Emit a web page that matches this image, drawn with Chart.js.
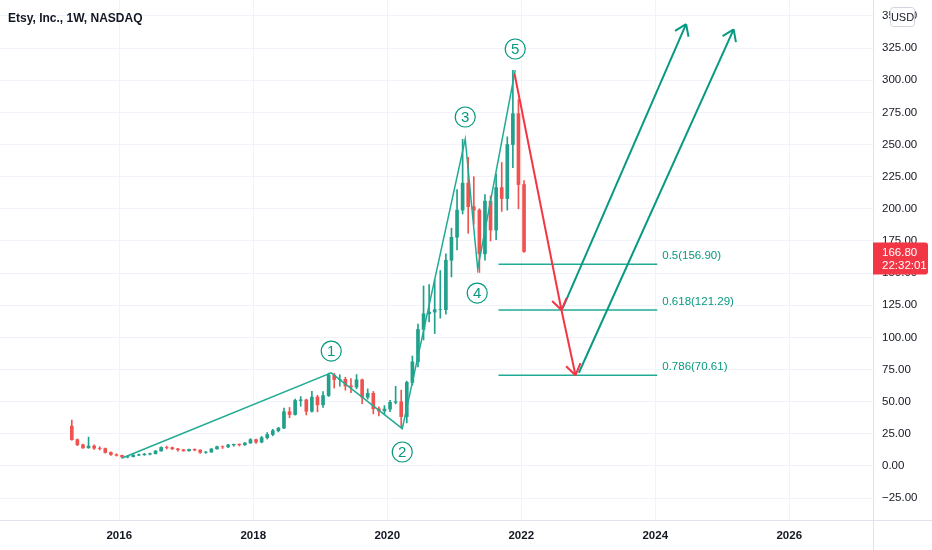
<!DOCTYPE html>
<html>
<head>
<meta charset="utf-8">
<title>Etsy, Inc., 1W, NASDAQ</title>
<script src="https://cdn.jsdelivr.net/npm/chart.js@4.4.1/dist/chart.umd.min.js"></script>
<style>
  html, body { margin: 0; padding: 0; background: #fff; }
  #box { position: relative; width: 932px; height: 550px; }
  #title { position: absolute; left: 8px; top: 11px; color: #131722;
           font: bold 12px "Liberation Sans", sans-serif; }
</style>
</head>
<body>
<div id="box">
  <canvas id="chart" width="932" height="550"></canvas>
  <div id="title">Etsy, Inc., 1W, NASDAQ</div>
</div>
<script>
// candles (monthly)
var months = [
  '2015-04','2015-05','2015-06','2015-07','2015-08','2015-09','2015-10','2015-11','2015-12',
  '2016-01','2016-02','2016-03','2016-04','2016-05','2016-06','2016-07','2016-08','2016-09','2016-10','2016-11','2016-12',
  '2017-01','2017-02','2017-03','2017-04','2017-05','2017-06','2017-07','2017-08','2017-09','2017-10','2017-11','2017-12',
  '2018-01','2018-02','2018-03','2018-04','2018-05','2018-06','2018-07','2018-08','2018-09','2018-10','2018-11','2018-12',
  '2019-01','2019-02','2019-03','2019-04','2019-05','2019-06','2019-07','2019-08','2019-09','2019-10','2019-11','2019-12',
  '2020-01','2020-02','2020-03','2020-04','2020-05','2020-06','2020-07','2020-08','2020-09','2020-10','2020-11','2020-12',
  '2021-01','2021-02','2021-03','2021-04','2021-05','2021-06','2021-07','2021-08','2021-09','2021-10','2021-11','2021-12',
  '2022-01'
];
var open = [
  31, 20.5, 16.5, 14.1, 15.5, 13.8, 13.6, 10.5, 8.8,
  8.3, 7.0, 7.3, 8.4, 8.8, 9.2, 9.6, 11.7, 14.4, 14.3, 13.3, 12.6,
  11.8, 12.9, 12.4, 10.6, 10.9, 13.3, 15.0, 14.9, 16.4, 16.9, 16.5, 17.9,
  20.5, 18.6, 22, 24.5, 27.5, 29.5, 42.2, 40, 50.9, 51.4, 42.6, 53.6,
  47.6, 54.8, 70.7, 67.2, 67.4, 62.3, 61.4, 67, 53.5, 56.5, 44.5, 42.8,
  44.3, 49.5, 50, 38.4, 65, 81, 106.2, 118.4, 119.7, 121.6, 121.6, 160,
  177.9, 199, 220, 201.7, 199, 165, 206, 183.5, 216.5, 208, 250, 274,
  218.9
];
var high = [
  35.7, 21, 17, 22.5, 16.5, 15, 14, 11, 9.5,
  8.4, 7.9, 8.9, 9.3, 9.8, 10, 12, 15, 15.5, 14.8, 13.7, 13,
  13.2, 13.3, 12.6, 11.2, 13.5, 15.4, 15.6, 16.9, 17.0, 17.2, 18.3, 21.3,
  21, 23, 26, 28.5, 30, 45, 45.5, 52, 54, 52, 58, 55,
  57.8, 72.3, 72, 71, 69, 68, 71.1, 67.5, 60, 58, 46, 47,
  51, 62, 59, 66, 85.5, 110.3, 140, 141, 145, 152, 165, 185,
  215, 254, 240, 225, 200, 211, 210, 227, 236, 256, 307.8, 285,
  222
];
var low = [
  20, 15.8, 13.6, 13.8, 12.8, 12.5, 10, 8.3, 7.7,
  6.0, 6.3, 7.0, 8.0, 8.2, 8.6, 9.3, 11.5, 13.2, 12.8, 11.6, 11.5,
  11.5, 11.8, 9.8, 9.8, 10.5, 13.0, 13.6, 14.3, 15.4, 15.6, 16.0, 17.6,
  17.6, 18, 21, 23.5, 26.5, 29, 37.5, 39.5, 46.5, 39.7, 41.8, 42.1,
  45.5, 54, 60.6, 62, 59, 57, 60, 48.5, 52, 40.5, 39, 40,
  42.3, 48.3, 29.9, 33.5, 63, 77, 98, 112, 103, 115, 118, 147,
  168, 196, 181, 188, 150.5, 160, 175, 176, 198, 199, 232, 200,
  166
];
var close = [
  20.5, 16.5, 14.1, 15.5, 13.8, 13.6, 10.5, 8.8, 8.3,
  7.0, 7.3, 8.4, 8.8, 9.2, 9.6, 11.7, 14.4, 14.3, 13.3, 12.6, 11.8,
  12.9, 12.4, 10.6, 10.9, 13.3, 15.0, 14.9, 16.4, 16.9, 16.5, 17.9, 20.5,
  18.6, 22, 24.5, 27.5, 29.5, 42.2, 40, 50.9, 51.4, 42.6, 53.6, 47.6,
  54.8, 70.7, 67.2, 67.4, 62.3, 61.4, 67, 53.5, 56.5, 44.5, 42.8, 44.3,
  49.5, 50, 38.4, 65, 81, 106.2, 118.4, 119.7, 121.6, 121.6, 160, 177.9,
  199, 220, 201.7, 199, 165, 206, 183.5, 216.5, 208, 250, 274, 218.9,
  166.8
];
var lastTime = '22:32:01';

// elliott wave drawing
var waveX = [2016.045, 2019.164, 2020.224, 2021.164, 2021.35, 2021.91];
var waveY = [6.2, 72.4, 29.0, 254.3, 153.2, 307.9];
var waveNames = ['1', '2', '3', '4', '5'];
var nameX = [2019.164, 2020.224, 2021.164, 2021.343, 2021.91];
var nameY = [89.4, 10.9, 271.4, 134.5, 324.3];

// fib retracement levels
var fibRatio = ['0.5', '0.618', '0.786'];
var fibPrice = [156.90, 121.29, 70.61];
var fibX = [2021.66, 2024.03];

// arrows
var redX = [2021.90, 2022.60, 2022.81];
var redY = [305, 121.3, 70.61];
var greenAX = [2022.62, 2024.46], greenAY = [123, 343.7];
var greenBX = [2022.86, 2025.17], greenBY = [72.5, 339.6];

// axes
var yTicks = [-25, 0, 25, 50, 75, 100, 125, 150, 175, 200, 225, 250, 275, 300, 325, 350];
var xTicks = [2016, 2018, 2020, 2022, 2024, 2026];

var UP = '#22a08c', DOWN = '#ef5350', TEAL = '#22ab94', GREEN = '#089981', RED = '#f23645';
var FONT = '"Liberation Sans", sans-serif';

function monthPos(m) {
  var p = m.split('-');
  return +p[0] + (+p[1] - 0.5) / 12;
}
function pts(xs, ys) {
  return xs.map(function (x, i) { return { x: x, y: ys[i] }; });
}
function noPad(s) {
  s.paddingTop = s.paddingBottom = s.paddingLeft = s.paddingRight = 0;
}
var candleColor = close.map(function (c, i) { return c >= open[i] ? UP : DOWN; });

var datasets = [
  { type: 'bar', data: months.map(function (m, i) { return { x: monthPos(m), y: [low[i], high[i]] }; }),
    backgroundColor: candleColor, barThickness: 1, grouped: false, order: 10 },
  { type: 'bar', data: months.map(function (m, i) { return { x: monthPos(m), y: [open[i], close[i]] }; }),
    backgroundColor: candleColor, barThickness: 3, grouped: false, order: 9 },
  { type: 'line', data: pts(waveX, waveY), borderColor: TEAL, borderWidth: 1.5, pointRadius: 0, order: 1 },
  { type: 'line', data: pts(redX.slice(0, 2), redY.slice(0, 2)), borderColor: RED, borderWidth: 2, pointRadius: 0, arrow: true, order: 0 },
  { type: 'line', data: pts(redX.slice(1), redY.slice(1)), borderColor: RED, borderWidth: 2, pointRadius: 0, arrow: true, order: 0 },
  { type: 'line', data: pts(greenAX, greenAY), borderColor: GREEN, borderWidth: 2, pointRadius: 0, arrow: true, order: 0 },
  { type: 'line', data: pts(greenBX, greenBY), borderColor: GREEN, borderWidth: 2, pointRadius: 0, arrow: true, order: 0 }
];
fibPrice.forEach(function (p) {
  datasets.push({ type: 'line', data: pts(fibX, [p, p]), borderColor: TEAL, borderWidth: 1.5, pointRadius: 0, order: 2 });
});

// arrow heads at the end of flagged lines
var arrowHeads = {
  id: 'arrowHeads',
  afterDatasetsDraw: function (chart) {
    var ctx = chart.ctx;
    chart.data.datasets.forEach(function (ds, i) {
      if (!ds.arrow) return;
      var el = chart.getDatasetMeta(i).data;
      var a = el[el.length - 2], b = el[el.length - 1];
      var ang = Math.atan2(b.y - a.y, b.x - a.x);
      ctx.save();
      ctx.strokeStyle = ds.borderColor;
      ctx.lineWidth = ds.borderWidth;
      ctx.beginPath();
      [-0.6, 0.6].forEach(function (s) {
        ctx.moveTo(b.x, b.y);
        ctx.lineTo(b.x - 13 * Math.cos(ang + s), b.y - 13 * Math.sin(ang + s));
      });
      ctx.stroke();
      ctx.restore();
    });
  }
};

// circled wave numbers and fib texts
var labels = {
  id: 'labels',
  afterDatasetsDraw: function (chart) {
    var ctx = chart.ctx, xs = chart.scales.x, ys = chart.scales.y;
    ctx.save();
    waveNames.forEach(function (n, i) {
      var x = xs.getPixelForValue(nameX[i]), y = ys.getPixelForValue(nameY[i]);
      ctx.beginPath();
      ctx.arc(x, y, 10, 0, Math.PI * 2);
      ctx.fillStyle = '#fff';
      ctx.fill();
      ctx.strokeStyle = GREEN;
      ctx.lineWidth = 1.2;
      ctx.stroke();
      ctx.fillStyle = GREEN;
      ctx.font = '15px ' + FONT;
      ctx.textAlign = 'center';
      ctx.textBaseline = 'middle';
      ctx.fillText(n, x, y + 1);
    });
    ctx.font = '11.5px ' + FONT;
    ctx.textAlign = 'left';
    ctx.textBaseline = 'middle';
    ctx.fillStyle = GREEN;
    fibPrice.forEach(function (p, i) {
      ctx.fillText(fibRatio[i] + '(' + p.toFixed(2) + ')',
        xs.getPixelForValue(fibX[1]) + 5, ys.getPixelForValue(p) - 8);
    });
    ctx.restore();
  }
};

// axis frame, price tag, currency badge
var frame = {
  id: 'frame',
  afterDraw: function (chart) {
    var ctx = chart.ctx, ca = chart.chartArea, ys = chart.scales.y;
    ctx.save();
    ctx.strokeStyle = '#e0e3eb';
    ctx.lineWidth = 1;
    ctx.beginPath();
    ctx.moveTo(0, ca.bottom + 0.5); ctx.lineTo(chart.width, ca.bottom + 0.5);
    ctx.moveTo(ca.right + 0.5, 0); ctx.lineTo(ca.right + 0.5, chart.height);
    ctx.stroke();

    var last = close[close.length - 1];
    var py = ys.getPixelForValue(last);
    ctx.fillStyle = RED;
    ctx.beginPath();
    ctx.roundRect(ca.right, py - 9, 55, 32, [0, 3, 3, 0]);
    ctx.fill();
    ctx.fillStyle = '#fff';
    ctx.font = '11.5px ' + FONT;
    ctx.textAlign = 'left';
    ctx.textBaseline = 'middle';
    ctx.fillText(last.toFixed(2), ca.right + 9, py + 1);
    ctx.fillText(lastTime, ca.right + 9, py + 14);

    ctx.fillStyle = '#fff';
    ctx.strokeStyle = '#d1d4dc';
    ctx.beginPath();
    ctx.roundRect(890.5, 7.5, 24, 19, 3);
    ctx.fill();
    ctx.stroke();
    ctx.fillStyle = '#131722';
    ctx.font = '11px ' + FONT;
    ctx.textAlign = 'center';
    ctx.fillText('USD', 902.5, 17.5);
    ctx.restore();
  }
};

new Chart(document.getElementById('chart'), {
  type: 'bar',
  data: { datasets: datasets },
  options: {
    responsive: false,
    animation: false,
    layout: { padding: 0 },
    plugins: { legend: { display: false }, tooltip: { enabled: false } },
    scales: {
      x: {
        type: 'linear', min: 2014.22, max: 2027.25, offset: false,
        afterBuildTicks: function (s) { s.ticks = xTicks.map(function (v) { return { value: v }; }); },
        afterFit: function (s) { s.height = 30; noPad(s); },
        grid: { color: '#f0f3fa', drawTicks: false, offset: false },
        border: { display: false },
        ticks: { padding: 9, color: '#131722', font: { family: FONT, size: 11.5, weight: 'bold' },
                 maxRotation: 0, callback: function (v) { return String(v); } }
      },
      y: {
        type: 'linear', position: 'right', min: -42, max: 362.4,
        afterBuildTicks: function (s) { s.ticks = yTicks.map(function (v) { return { value: v }; }); },
        afterFit: function (s) { s.width = 59; noPad(s); },
        grid: { color: '#f0f3fa', drawTicks: false },
        border: { display: false },
        ticks: { padding: 9, color: '#131722', font: { family: FONT, size: 11.5 },
                 callback: function (v) { return (v < 0 ? '\u2212' : '') + Math.abs(v).toFixed(2); } }
      }
    }
  },
  plugins: [arrowHeads, labels, frame]
});
</script>
</body>
</html>
